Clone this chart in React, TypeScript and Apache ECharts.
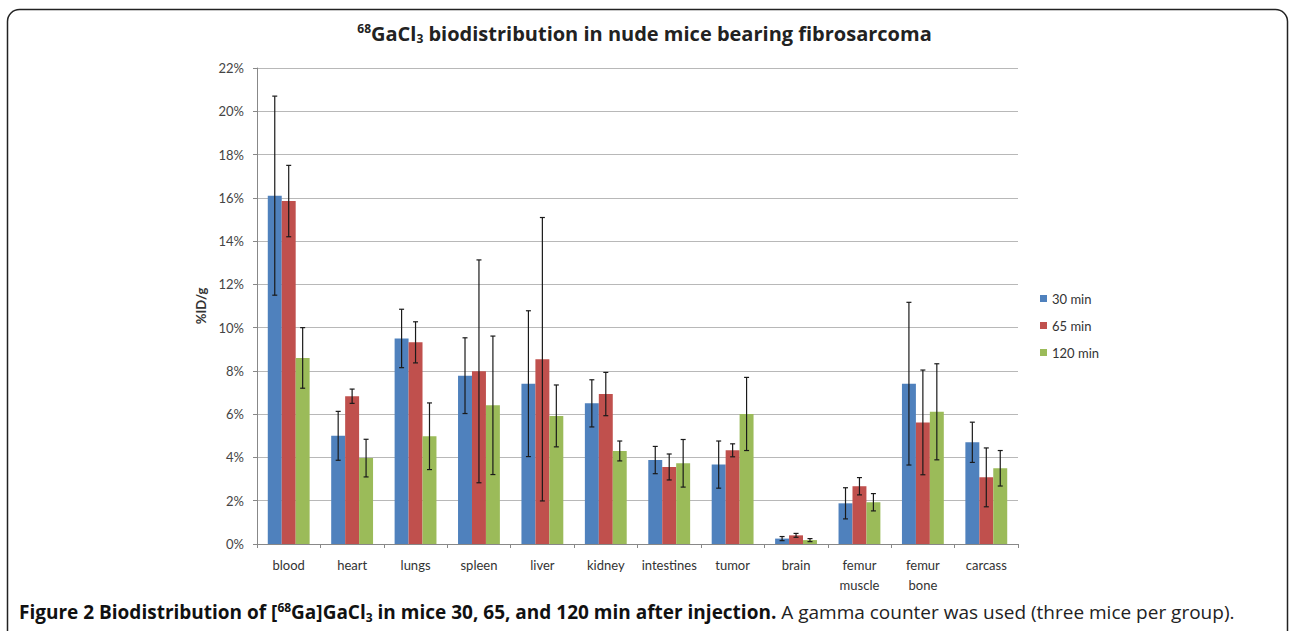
import React, { useEffect, useRef } from "react";
import * as echarts from "echarts";

const categories = ["blood", "heart", "lungs", "spleen", "liver", "kidney", "intestines", "tumor", "brain", "femur\nmuscle", "femur\nbone", "carcass"];
const seriesNames = ["30 min", "65 min", "120 min"];
const mean30 = [16.1, 5.0, 9.5, 7.78, 7.41, 6.5, 3.88, 3.67, 0.25, 1.88, 7.41, 4.7];
const sd30 = [4.6, 1.13, 1.35, 1.75, 3.37, 1.09, 0.63, 1.09, 0.095, 0.72, 3.76, 0.93];
const mean65 = [15.85, 6.83, 9.32, 7.98, 8.54, 6.93, 3.56, 4.33, 0.4, 2.67, 5.62, 3.08];
const sd65 = [1.65, 0.33, 0.95, 5.15, 6.55, 1.0, 0.6, 0.3, 0.09, 0.4, 2.42, 1.36];
const mean120 = [8.6, 3.97, 4.98, 6.41, 5.92, 4.3, 3.73, 6.01, 0.18, 1.93, 6.11, 3.5];
const sd120 = [1.4, 0.87, 1.54, 3.2, 1.43, 0.46, 1.1, 1.69, 0.07, 0.4, 2.22, 0.82];
const colors = ["#4f81bd", "#c0504d", "#9bbb59"];

const FONT = "Lato";
const CAP_FONT = "Open Sans";
const GAP = 0.34;

export default function App() {
  const ref = useRef<HTMLDivElement>(null);
  useEffect(() => {
    const chart = echarts.init(ref.current!, null, { renderer: "svg" });
    const means = [mean30, mean65, mean120];
    const sds = [sd30, sd65, sd120];
    const bars = means.map((m, i) => ({
      name: seriesNames[i],
      type: "bar",
      data: m,
      itemStyle: { color: colors[i] },
      barGap: "0%",
      barCategoryGap: GAP * 100 + "%",
    }));
    const errs = means.map((m, i) => ({
      name: seriesNames[i] + " err",
      type: "custom",
      data: m.map((v, j) => [j, v - sds[i][j], v + sds[i][j]]),
      z: 10,
      renderItem: (params: any, api: any) => {
        const idx = api.value(0);
        const lo = api.coord([idx, api.value(1)]);
        const hi = api.coord([idx, api.value(2)]);
        const band = api.size([1, 0])[0];
        const bw = (band * (1 - GAP)) / 3;
        const x = lo[0] + (i - 1) * bw;
        const cap = 2.5;
        const st = { stroke: "#1a1a1a", lineWidth: 1.2 };
        return {
          type: "group",
          children: [
            { type: "line", shape: { x1: x, y1: lo[1], x2: x, y2: hi[1] }, style: st },
            { type: "line", shape: { x1: x - cap, y1: lo[1], x2: x + cap, y2: lo[1] }, style: st },
            { type: "line", shape: { x1: x - cap, y1: hi[1], x2: x + cap, y2: hi[1] }, style: st },
          ],
        };
      },
    }));
    chart.setOption({
      animation: false,
      textStyle: { fontFamily: FONT },
      grid: { left: 257, right: 271, top: 68, bottom: 87, containLabel: false },
      legend: {
        data: seriesNames,
        orient: "vertical",
        left: 1035,
        top: 287,
        itemWidth: 7,
        itemHeight: 7,
        itemGap: 14,
        icon: "rect",
        textStyle: { fontSize: 13, color: "#333", fontFamily: FONT },
      },
      xAxis: {
        type: "category",
        data: categories,
        axisLine: { lineStyle: { color: "#888" } },
        axisTick: { show: true, length: 4, lineStyle: { color: "#888" } },
        axisLabel: { interval: 0, fontSize: 13, color: "#333", margin: 11, lineHeight: 20, fontFamily: FONT },
      },
      yAxis: {
        type: "value",
        min: 0,
        max: 22,
        interval: 2,
        name: "%ID/g",
        nameLocation: "middle",
        nameGap: 46,
        nameTextStyle: { fontSize: 13, fontWeight: "bold", color: "#333", fontFamily: FONT },
        axisLine: { show: true, lineStyle: { color: "#888" } },
        axisTick: { show: true, length: 4, lineStyle: { color: "#888" } },
        axisLabel: { formatter: "{value}%", fontSize: 13, color: "#444", margin: 13, fontFamily: FONT },
        splitLine: { lineStyle: { color: "#b8b8b8", width: 1 } },
      },
      series: [...bars, ...errs],
      graphic: [
        {
          type: "rect",
          shape: { x: 7.5, y: 9.5, width: 1280, height: 700, r: 12 },
          style: { fill: "none", stroke: "#222", lineWidth: 1.5 },
          silent: true,
        },
        {
          type: "text",
          left: "center",
          top: 22,
          style: {
            text: "{sup|68}{b|GaCl}{sub|3}{b| biodistribution in nude mice bearing fibrosarcoma}",
            fontFamily: CAP_FONT,
            rich: {
              b: { fontSize: 20, fontWeight: "bold", fill: "#222", fontFamily: CAP_FONT, lineHeight: 28 },
              sup: { fontSize: 12, fontWeight: "bold", fill: "#222", fontFamily: CAP_FONT, padding: [0, 0, 10, 0], lineHeight: 28 },
              sub: { fontSize: 12, fontWeight: "bold", fill: "#222", fontFamily: CAP_FONT, padding: [10, 0, 0, 0], lineHeight: 28 },
            },
          },
        },
        {
          type: "text",
          left: 19,
          top: 601,
          style: {
            text: "{b|Figure 2 Biodistribution of [}{bsup|68}{b|Ga]GaCl}{bsub|3}{b| in mice 30, 65, and 120 min after injection.}{n| A gamma counter was used (three mice per group).}",
            fontFamily: CAP_FONT,
            rich: {
              b: { fontSize: 19, fontWeight: "bold", fill: "#111", fontFamily: CAP_FONT, lineHeight: 28 },
              bsup: { fontSize: 12, fontWeight: "bold", fill: "#111", fontFamily: CAP_FONT, padding: [0, 0, 10, 0], lineHeight: 28 },
              bsub: { fontSize: 12, fontWeight: "bold", fill: "#111", fontFamily: CAP_FONT, padding: [10, 0, 0, 0], lineHeight: 28 },
              n: { fontSize: 19, fill: "#222", fontFamily: CAP_FONT, lineHeight: 28 },
            },
          },
        },
      ],
    });
    return () => chart.dispose();
  }, []);
  return (
    <div
      ref={ref}
      style={{ position: "fixed", left: 0, top: 0, width: 1289, height: 631, background: "#fff" }}
    />
  );
}
